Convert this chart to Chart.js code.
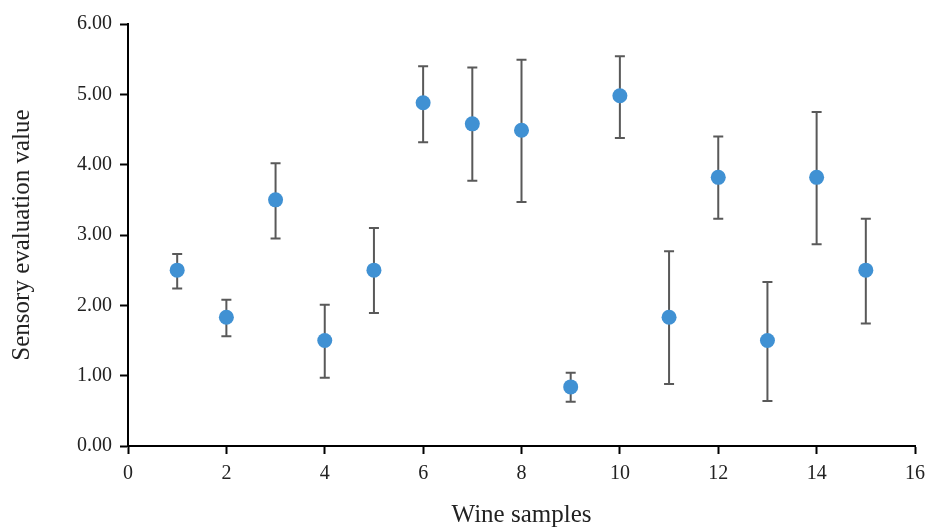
<!DOCTYPE html>
<html>
<head>
<meta charset="utf-8">
<script src="https://cdn.jsdelivr.net/npm/chart.js@4/dist/chart.umd.min.js"></script>
<style>
html,body{margin:0;padding:0;background:#fff;}
#wrap{width:927px;height:528px;position:relative;}
</style>
</head>
<body>
<div id="wrap"><canvas id="c" width="927" height="528"></canvas></div>
<script>
const samples = [1,2,3,4,5,6,7,8,9,10,11,12,13,14,15];
const means   = [2.50,1.83,3.50,1.50,2.50,4.88,4.58,4.49,0.84,4.98,1.83,3.82,1.50,3.82,2.50];
const upper   = [2.73,2.08,4.02,2.01,3.10,5.40,5.38,5.49,1.04,5.54,2.77,4.40,2.33,4.75,3.23];
const lower   = [2.24,1.56,2.95,0.97,1.89,4.32,3.77,3.47,0.63,4.38,0.88,3.23,0.64,2.87,1.74];
const xTitle = "Wine samples";
const yTitle = "Sensory evaluation value";

const errorBars = {
  id: 'errorBars',
  beforeDatasetsDraw(chart) {
    const ctx = chart.ctx, xs = chart.scales.x, ys = chart.scales.y;
    ctx.save();
    ctx.strokeStyle = '#595959';
    ctx.lineWidth = 2;
    samples.forEach((s, i) => {
      const px = xs.getPixelForValue(s);
      const pt = ys.getPixelForValue(upper[i]);
      const pb = ys.getPixelForValue(lower[i]);
      ctx.beginPath();
      ctx.moveTo(px, pt); ctx.lineTo(px, pb);
      ctx.moveTo(px - 5, pt); ctx.lineTo(px + 5, pt);
      ctx.moveTo(px - 5, pb); ctx.lineTo(px + 5, pb);
      ctx.stroke();
    });
    ctx.restore();
  }
};

const font = "'Liberation Serif', 'Times New Roman', serif";
new Chart(document.getElementById('c'), {
  type: 'scatter',
  data: {
    datasets: [{
      data: samples.map((s, i) => ({x: s, y: means[i]})),
      backgroundColor: '#4091d3',
      borderColor: '#4091d3',
      pointRadius: 7.5,
      pointHoverRadius: 7.5,
      borderWidth: 0
    }]
  },
  options: {
    responsive: false,
    animation: false,
    layout: {padding: {top: 24, right: 12, left: 0, bottom: 0}},
    plugins: {legend: {display: false}, tooltip: {enabled: false}},
    scales: {
      x: {
        type: 'linear', min: 0, max: 16,
        ticks: {stepSize: 2, color: '#222', font: {family: font, size: 20}, padding: 8},
        grid: {display: true, drawOnChartArea: false, drawTicks: true, tickLength: 8, tickColor: '#000', tickWidth: 2},
        border: {color: '#000', width: 2},
        title: {display: true, text: xTitle, color: '#222', font: {family: font, size: 25, lineHeight: 1}, padding: {top: 0, bottom: 0}},
        afterFit(s) { s.height = 82; s.paddingRight = 0; s.paddingLeft = 0; }
      },
      y: {
        min: 0, max: 6,
        ticks: {stepSize: 1, color: '#222', font: {family: font, size: 20}, padding: 8,
          callback: v => Number(v).toFixed(2)},
        grid: {display: true, drawOnChartArea: false, drawTicks: true, tickLength: 8, tickColor: '#000', tickWidth: 2},
        border: {color: '#000', width: 2},
        title: {display: true, text: yTitle, color: '#222', font: {family: font, size: 25, lineHeight: 1}, padding: {top: 10, bottom: 0}},
        afterFit(s) { s.width = 128; s.paddingTop = 0; s.paddingBottom = 0; }
      }
    }
  },
  plugins: [errorBars]
});
</script>
</body>
</html>
